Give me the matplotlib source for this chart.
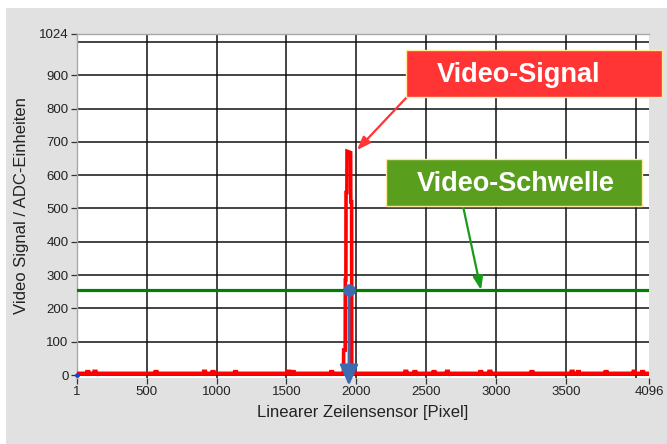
import numpy as np
import matplotlib
matplotlib.use("Agg")
import matplotlib.pyplot as plt
from matplotlib.patches import Rectangle

plt.rcParams['font.family'] = ['Liberation Sans', 'DejaVu Sans']

# --- data -------------------------------------------------------------
x_ticks = [1, 500, 1000, 1500, 2000, 2500, 3000, 3500, 4096]
x_grid = [500, 1000, 1500, 2000, 2500, 3000, 3500, 4000]
y_ticks = [0, 100, 200, 300, 400, 500, 600, 700, 800, 900, 1024]
y_grid = [0, 100, 200, 300, 400, 500, 600, 700, 800, 900, 1000]

base_level = 5
bump_px = [78, 130, 567, 914, 975, 1136, 1516, 1549, 1824, 2355, 2420,
           2557, 2653, 2891, 2957, 3258, 3546, 3591, 3789, 3990, 4050]
bump_val = [10, 11, 10, 11, 10, 10, 11, 10, 10, 11, 10,
            10, 11, 10, 11, 10, 11, 10, 10, 11, 10]

peak_px = [1900, 1909, 1910, 1921, 1922, 1926, 1927, 1933, 1934, 1960,
           1961, 1967, 1968, 1975]
peak_val = [5, 5, 75, 75, 286, 286, 548, 548, 672, 668,
            520, 520, 5, 5]

threshold = 256
crossing_px = 1948

# --- assemble trace -----------------------------------------------------
pts = [(1, base_level), (4096, base_level)]
for p, v in zip(bump_px, bump_val):
    pts += [(p - 7, base_level), (p - 6, v), (p + 6, v), (p + 7, base_level)]
pts = [q for q in pts if q[0] < peak_px[0] or q[0] > peak_px[-1]]
pts += list(zip(peak_px, peak_val))
pts.sort(key=lambda q: q[0])
trace_x = [q[0] for q in pts]
trace_y = [q[1] for q in pts]

# --- figure -------------------------------------------------------------
W, H = 667, 444
fig = plt.figure(figsize=(W / 100, H / 100), dpi=100, facecolor='white')

def fx(px):
    return px / W

def fy(py):
    return 1 - py / H

# grey panel behind the chart
fig.patches.append(Rectangle((fx(6), 0), 1 - fx(6), fy(8), transform=fig.transFigure,
                             facecolor='#e1e1e1', edgecolor='none', zorder=-10))

ax = fig.add_axes([fx(77), fy(378), (649 - 77) / W, (378 - 34) / H])
ax.set_facecolor('white')
ax.set_xlim(1, 4096)
ax.set_ylim(-9, 1024)

ax.set_xticks(x_ticks)
ax.set_xticklabels([str(t) for t in x_ticks])
ax.set_yticks(y_ticks)
ax.set_yticklabels([str(t) for t in y_ticks])
ax.tick_params(which='major', direction='out', length=4, width=0.9, color='#333333',
               labelsize=9.5, labelcolor='#222222', pad=2)

# grid
for gx in x_grid:
    ax.axvline(gx, color='#111111', linewidth=1.1, zorder=1)
for gy in y_grid:
    ax.axhline(gy, color='#111111', linewidth=1.1, zorder=1)

for side in ['left', 'top']:
    ax.spines[side].set_color('#a8a8a8')
    ax.spines[side].set_linewidth(1.0)
for side in ['right', 'bottom']:
    ax.spines[side].set_visible(False)

ax.set_xlabel('Linearer Zeilensensor [Pixel]', fontsize=12, color='#222222', labelpad=5)
ax.set_ylabel('Video Signal / ADC-Einheiten', fontsize=12, color='#222222', labelpad=7)

# threshold line
ax.axhline(threshold, color='#008000', linewidth=2.3, zorder=3)

# signal trace
ax.plot(trace_x, trace_y, color='#ff0000', linewidth=2.6, solid_joinstyle='miter', zorder=4)

# crossing marker and arrow down to the axis
ax.annotate('', xy=(crossing_px, -32), xytext=(crossing_px, threshold),
            arrowprops=dict(arrowstyle='-|>,head_length=0.9,head_width=0.4',
                            color='#3d6bb0', lw=2.0, shrinkA=0, shrinkB=0,
                            mutation_scale=14),
            annotation_clip=False, zorder=6)
ax.plot([crossing_px], [threshold], 'o', color='#3d6bb0', markersize=8, zorder=7)
ax.plot([1], [0], 'o', color='#1f3fd0', markersize=2.5, zorder=7, clip_on=False)

# callout boxes
fig.patches.append(Rectangle((fx(406), fy(97)), (662 - 406) / W, (97 - 50) / H,
                             transform=fig.transFigure, facecolor='#ff3535',
                             edgecolor='#ffe8a0', linewidth=1.0, zorder=10))
fig.text(fx(519), fy(75), 'Video-Signal', color='white', fontsize=19.5,
         fontweight='bold', ha='center', va='center', zorder=11)
fig.patches.append(Rectangle((fx(386), fy(206)), (642 - 386) / W, (206 - 159) / H,
                             transform=fig.transFigure, facecolor='#599e1d',
                             edgecolor='#ffe8a0', linewidth=1.0, zorder=10))
fig.text(fx(516), fy(184), 'Video-Schwelle', color='white', fontsize=19.5,
         fontweight='bold', ha='center', va='center', zorder=11)

# callout arrows
ax.annotate('', xy=(fx(357), fy(150)), xycoords='figure fraction',
            xytext=(fx(407), fy(97)), textcoords='figure fraction',
            arrowprops=dict(arrowstyle='-|>,head_length=0.8,head_width=0.3',
                            color='#ff3535', lw=1.6, shrinkA=0, shrinkB=0),
            annotation_clip=False, zorder=9)
ax.annotate('', xy=(fx(481), fy(290)), xycoords='figure fraction',
            xytext=(fx(463), fy(206)), textcoords='figure fraction',
            arrowprops=dict(arrowstyle='-|>,head_length=0.8,head_width=0.3',
                            color='#1a9a1a', lw=1.6, shrinkA=0, shrinkB=0),
            annotation_clip=False, zorder=9)

fig.savefig('out.png', dpi=100, facecolor=fig.get_facecolor())
